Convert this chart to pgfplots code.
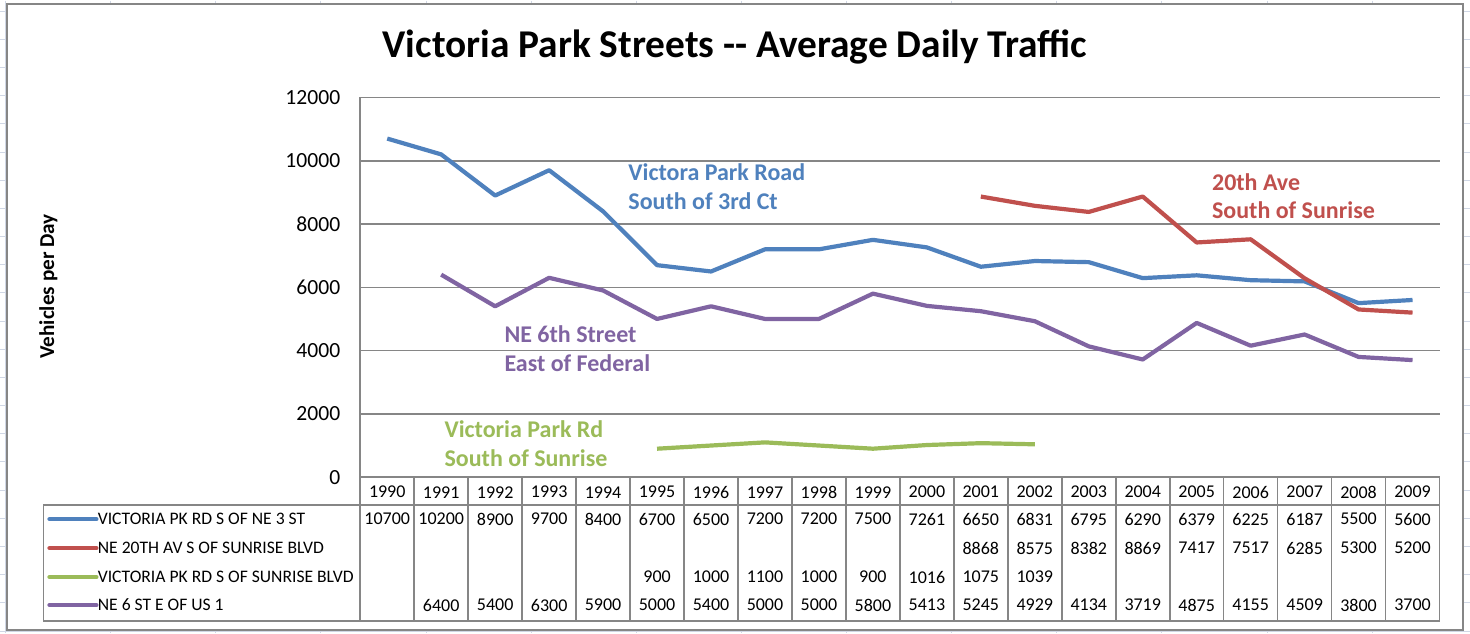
\documentclass[border=0pt]{standalone}
\usepackage{fontspec}
\setmainfont{Carlito}
\usepackage{pgfplots}
\pgfplotsset{compat=1.18}
\usepackage{pgfplotstable}

\definecolor{sblue}{HTML}{4F81BD}
\definecolor{sred}{HTML}{C0504D}
\definecolor{sgreen}{HTML}{9BBB59}
\definecolor{spurple}{HTML}{8064A2}
\definecolor{gridgray}{HTML}{868686}
\definecolor{sheetgrid}{HTML}{D0D7E5}

% average daily traffic, nan = no count that year
\pgfplotstableread{
year  vp3    ne20  vpsun  ne6
1990  10700  nan   nan    nan
1991  10200  nan   nan    6400
1992  8900   nan   nan    5400
1993  9700   nan   nan    6300
1994  8400   nan   nan    5900
1995  6700   nan   900    5000
1996  6500   nan   1000   5400
1997  7200   nan   1100   5000
1998  7200   nan   1000   5000
1999  7500   nan   900    5800
2000  7261   nan   1016   5413
2001  6650   8868  1075   5245
2002  6831   8575  1039   4929
2003  6795   8382  nan    4134
2004  6290   8869  nan    3719
2005  6379   7417  nan    4875
2006  6225   7517  nan    4155
2007  6187   6285  nan    4509
2008  5500   5300  nan    3800
2009  5600   5200  nan    3700
}\traffic

\def\nanstr{nan}
\newcommand\tablefont{\fontsize{9}{10}\selectfont}
% print one cell of the data table (row, column, y in px)
\newcommand\cellnode[3]{%
  \pgfplotstablegetelem{#1}{#2}\of\traffic
  \edef\cellval{\pgfplotsretval}%
  \ifx\cellval\nanstr\else\node[font=\tablefont] at (\cx,#3) {\cellval};\fi
}

\begin{document}
\begin{tikzpicture}
% background in pixel units of the screenshot (origin top left)
\begin{scope}[shift={(-180pt,238.5pt)}, x=0.5pt, y=-0.5pt]
  \fill[white] (0,0) rectangle (1470,633);
  \foreach \k in {0,...,22} \draw[sheetgrid, line width=0.5pt] (0,10.6+28.2*\k) -- (1470,10.6+28.2*\k);
  \foreach \k in {0,...,13} \draw[sheetgrid, line width=0.5pt] (5+105.2*\k,0) -- (5+105.2*\k,633);
  \filldraw[fill=white, draw=gridgray, line width=1pt] (7,4) rectangle (1463,630);
\end{scope}

\begin{axis}[
  at={(0,0)}, anchor=south west,
  scale only axis, width=540pt, height=190pt,
  xmin=1989.5, xmax=2009.5, ymin=0, ymax=12000,
  xtick=\empty, ytick={0,2000,...,12000},
  scaled y ticks=false,
  axis lines*=left,
  axis line style={draw=gridgray, line width=0.8pt},
  ymajorgrids, grid style={draw=gridgray, line width=0.8pt},
  major tick length=0pt,
  yticklabel style={font=\fontsize{10.8}{12}\selectfont, xshift=-6.5pt},
  /pgf/number format/1000 sep={},
  /pgf/number format/assume math mode=true,
  clip=false,
  every axis plot/.append style={line width=2.1pt, line join=round, mark=none},
]
  \addplot[sblue] table[x=year, y=vp3] {\traffic};
  \addplot[sred] table[x=year, y=ne20] {\traffic};
  \addplot[sgreen] table[x=year, y=vpsun] {\traffic};
  \addplot[spurple] table[x=year, y=ne6] {\traffic};
\end{axis}

\begin{scope}[shift={(-180pt,238.5pt)}, x=0.5pt, y=-0.5pt]
  % title and axis label
  \node[font=\fontsize{19.7}{22}\selectfont\bfseries] at (735,47) {Victoria Park Streets -{}- Average Daily Traffic};
  \node[font=\fontsize{10.6}{12}\selectfont\bfseries, rotate=90] at (48,286) {Vehicles per Day};

  % series labels
  \begin{scope}[every node/.style={anchor=base west, inner sep=0pt, font=\fontsize{12}{14}\selectfont\bfseries}]
    \node[text=sblue] at (628,180) {Victora Park Road};
    \node[text=sblue] at (628,209) {South of 3rd Ct};
    \node[text=sred] at (1212,190) {20th Ave};
    \node[text=sred] at (1212,218) {South of Sunrise};
    \node[text=spurple] at (504,342) {NE 6th Street};
    \node[text=spurple] at (504,371) {East of Federal};
    \node[text=sgreen] at (444,437) {Victoria Park Rd};
    \node[text=sgreen] at (444,466) {South of Sunrise};
  \end{scope}

  % data table grid
  \begin{scope}[draw=gridgray, line width=0.8pt]
    \draw (43,505) -- (1440,505);
    \draw (43,621) -- (1440,621);
    \draw (43,505) -- (43,621);
    \foreach \k in {0,...,20} \draw (360+54*\k,477) -- (360+54*\k,621);
  \end{scope}

  % legend keys
  \foreach \c/\t/\y in {sblue/VICTORIA PK RD S OF NE 3 ST/519,
                        sred/NE 20TH AV S OF SUNRISE BLVD/548,
                        sgreen/VICTORIA PK RD S OF SUNRISE BLVD/577,
                        spurple/NE 6 ST E OF US 1/605} {
    \draw[\c, line width=2.1pt, line cap=round] (49,\y) -- (96,\y);
    \node[anchor=west, inner sep=0pt, font=\fontsize{8.8}{10}\selectfont] at (97,\y) {\t};
  }

  % table values from the data
  \foreach \i in {0,...,19} {
    \pgfmathsetmacro\cx{387+54*\i}
    \cellnode{\i}{year}{492}
    \cellnode{\i}{vp3}{519}
    \cellnode{\i}{ne20}{548}
    \cellnode{\i}{vpsun}{577}
    \cellnode{\i}{ne6}{605}
  }
\end{scope}
\end{tikzpicture}
\end{document}
